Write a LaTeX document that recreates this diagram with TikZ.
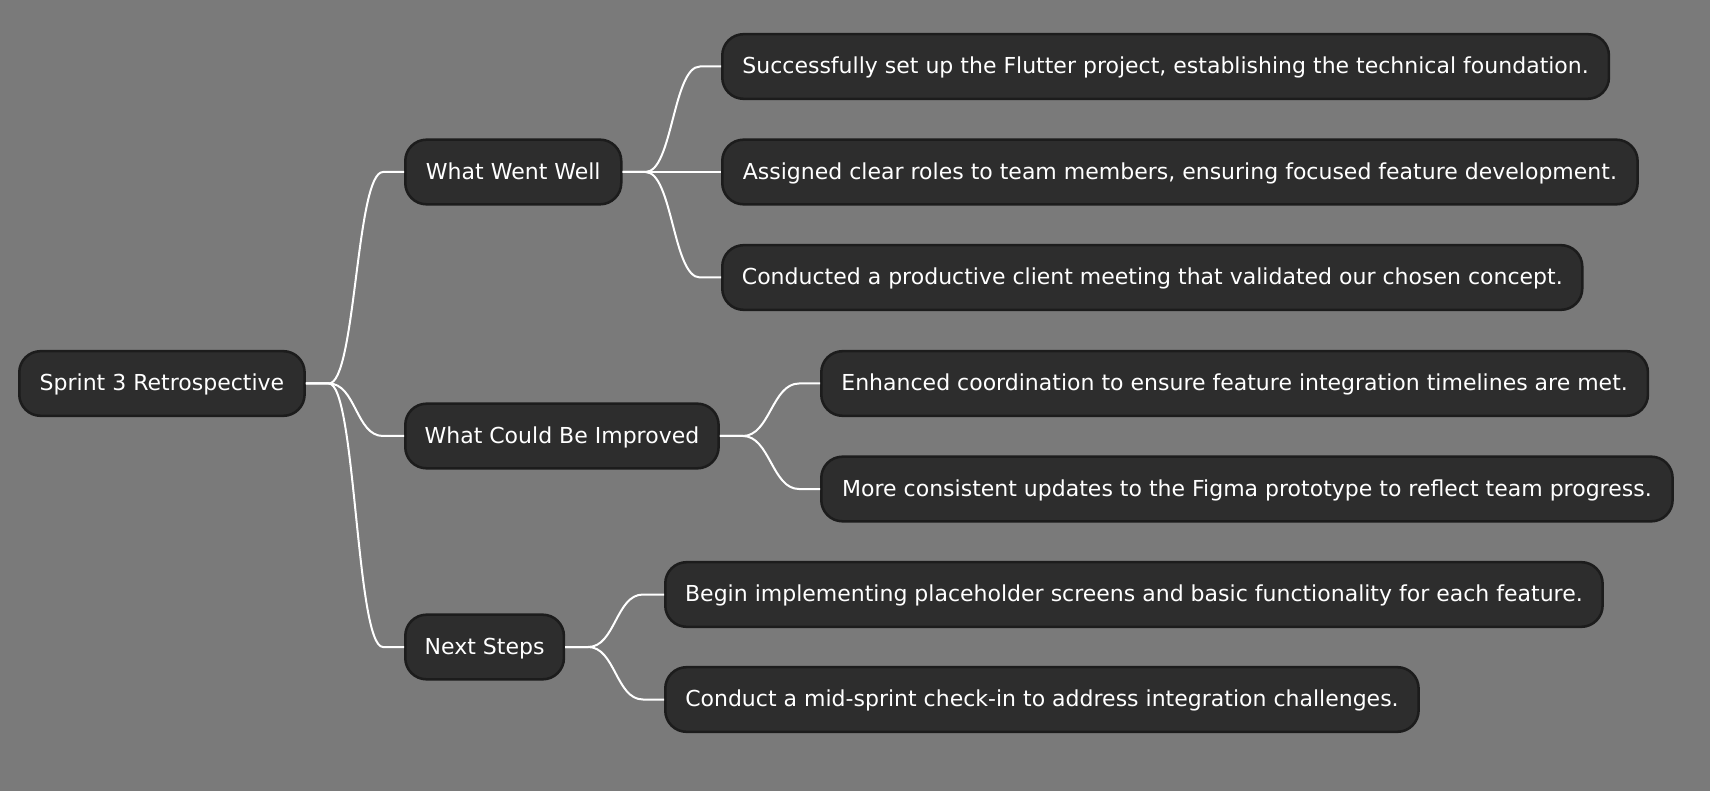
\documentclass[tikz,border=0pt]{standalone}
\usepackage{fontspec}
\setmainfont{DejaVu Sans}
\usetikzlibrary{calc}

\definecolor{bggray}{RGB}{122,122,122}
\definecolor{boxfill}{RGB}{45,45,45}
\definecolor{boxline}{RGB}{28,28,28}

\tikzset{
    box/.style={draw=boxline, fill=boxfill, line width=1.9pt, rounded corners=16pt,
        text=white, anchor=west, minimum height=48.5pt, inner xsep=0pt,
        text height=14pt, text depth=3.2pt,
        font=\fontsize{16.5}{20}\selectfont},
    link/.style={white, line width=1.5pt,
        to path={-- ($(\tikztostart)+(23,0)$)
            .. controls ($(\tikztostart)+(50,0)$) and ($(\tikztotarget)+(-48,0)$)
            .. ($(\tikztotarget)+(-21,0)$) -- (\tikztotarget)}}
}

\begin{document}
\begin{tikzpicture}[x=0.75pt, y=-0.75pt]
        \fill[bggray] (0,0) rectangle (1710,791);
        \useasboundingbox (0,0) rectangle (1710,791);

        % main topic and branches
        \node[box, minimum width=214pt] (retro) at (18,383.5) {Sprint 3 Retrospective};
        \node[box, minimum width=162pt] (well) at (404,172) {What Went Well};
        \node[box, minimum width=235pt] (improve) at (404,436) {What Could Be Improved};
        \node[box, minimum width=119pt] (next) at (404,647) {Next Steps};

        % leaves
        \node[box, minimum width=665pt] (wellA) at (721,66.5) {Successfully set up the Flutter project, establishing the technical foundation.};
        \node[box, minimum width=686.5pt] (wellB) at (721,172) {Assigned clear roles to team members, ensuring focused feature development.};
        \node[box, minimum width=645pt] (wellC) at (721,277.5) {Conducted a productive client meeting that validated our chosen concept.};
        \node[box, minimum width=620pt] (improveA) at (820,383.5) {Enhanced coordination to ensure feature integration timelines are met.};
        \node[box, minimum width=638.5pt] (improveB) at (820,489) {More consistent updates to the Figma prototype to reflect team progress.};
        \node[box, minimum width=703pt] (nextA) at (664,594.5) {Begin implementing placeholder screens and basic functionality for each feature.};
        \node[box, minimum width=565pt] (nextB) at (664,699.5) {Conduct a mid-sprint check-in to address integration challenges.};

        \draw[link] (retro.east) to (well.west);
        \draw[link] (retro.east) to (improve.west);
        \draw[link] (retro.east) to (next.west);

        \draw[link] (well.east) to (wellA.west);
        \draw[link] (well.east) to (wellB.west);
        \draw[link] (well.east) to (wellC.west);
        \draw[link] (improve.east) to (improveA.west);
        \draw[link] (improve.east) to (improveB.west);
        \draw[link] (next.east) to (nextA.west);
        \draw[link] (next.east) to (nextB.west);

    \end{tikzpicture}
\end{document}
